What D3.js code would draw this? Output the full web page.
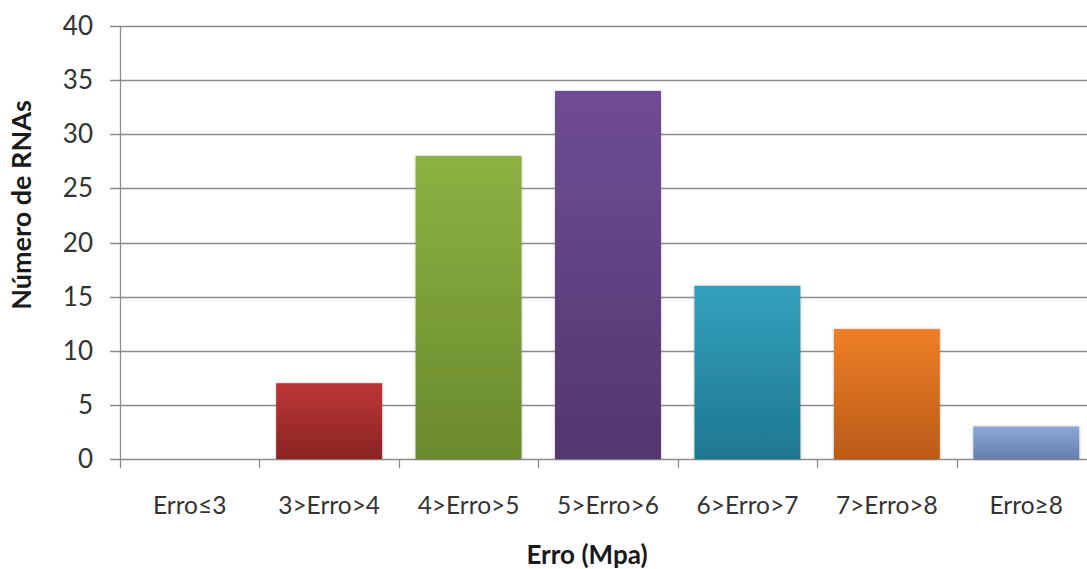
<!DOCTYPE html>
<html><head><meta charset="utf-8">
<script src="https://cdn.jsdelivr.net/npm/d3@7"></script>
<style>body{margin:0;background:#fff;}svg{display:block;font-family:Lato,"Open Sans",sans-serif;}</style>
</head><body><svg id="c" width="1087" height="569"></svg>
<script>
const categories = ["Erro≤3","3>Erro>4","4>Erro>5","5>Erro>6","6>Erro>7","7>Erro>8","Erro≥8"];
const values = [0, 7, 28, 34, 16, 12, 3];
const yTicks = [0,5,10,15,20,25,30,35,40];
const colorsTop = ["#c0504d","#bb3634","#8db142","#6f4c95","#33a1be","#ee7f26","#8ba7d7"];
const colorsBot = ["#8b2626","#8a2423","#6a8a2d","#52376f","#1f7790","#ba5a18","#6680ad"];

(function(){
const svg = d3.select("#c");
const pLeft = 120, pRight = 1096, pTop = 26, pBottom = 459;
const x = d3.scaleBand().domain(categories).range([pLeft, pRight]).paddingInner(0.24).paddingOuter(0.12);
const y = d3.scaleLinear().domain([0,40]).range([pBottom, pTop]);

const defs = svg.append("defs");
categories.forEach((c,i)=>{
  const g = defs.append("linearGradient").attr("id","g"+i).attr("x1",0).attr("y1",0).attr("x2",0).attr("y2",1);
  g.append("stop").attr("offset","0%").attr("stop-color",colorsTop[i]);
  g.append("stop").attr("offset","100%").attr("stop-color",colorsBot[i]);
});
const f = defs.append("filter").attr("id","sh").attr("x","-10%").attr("y","-10%").attr("width","120%").attr("height","120%");
f.append("feDropShadow").attr("dx",0).attr("dy",0).attr("stdDeviation",1.5).attr("flood-color","#000").attr("flood-opacity",0.25);

// gridlines
svg.append("g").selectAll("line").data(yTicks).join("line")
  .attr("x1", pLeft-10).attr("x2", 1087).attr("y1", d=>Math.round(y(d))+0.5).attr("y2", d=>Math.round(y(d))+0.5)
  .attr("stroke","#8c8c8c").attr("stroke-width",1.3);

// y axis line
svg.append("line").attr("x1",pLeft+0.5).attr("x2",pLeft+0.5).attr("y1",pTop).attr("y2",pBottom+9).attr("stroke","#8c8c8c").attr("stroke-width",1.3);

// category ticks
const bounds = categories.map(c=>x(c) - x.step()*x.paddingInner()/2);
svg.append("g").selectAll("line").data(bounds.slice(1)).join("line")
  .attr("x1",d=>Math.round(d)+0.5).attr("x2",d=>Math.round(d)+0.5).attr("y1",pBottom).attr("y2",pBottom+9)
  .attr("stroke","#8c8c8c").attr("stroke-width",1.3);

// bars
svg.append("g").selectAll("rect").data(values).join("rect")
  .attr("x",(d,i)=>x(categories[i])).attr("width",x.bandwidth())
  .attr("y",d=>y(d)).attr("height",d=>y(0)-y(d))
  .attr("fill",(d,i)=>"url(#g"+i+")").attr("filter","url(#sh)");

// y tick labels
svg.append("g").selectAll("text").data(yTicks).join("text")
  .attr("x", 93).attr("y", d=>y(d)+9).attr("text-anchor","end")
  .attr("font-size",26).attr("fill","#333").text(d=>d);

// x tick labels
svg.append("g").selectAll("text").data(categories).join("text")
  .attr("x", c=>x(c)+x.bandwidth()/2).attr("y", 514).attr("text-anchor","middle")
  .attr("font-size",24.5).attr("fill","#333").text(c=>c);

// axis titles
svg.append("text").attr("x",587).attr("y",564).attr("text-anchor","middle")
  .attr("font-size",26).attr("font-weight","bold").attr("fill","#1a1a1a").text("Erro (Mpa)");
svg.append("text").attr("transform","translate(31,205) rotate(-90)").attr("text-anchor","middle")
  .attr("font-size",27).attr("font-weight","bold").attr("fill","#1a1a1a").text("Número de RNAs");
})();
</script></body></html>
